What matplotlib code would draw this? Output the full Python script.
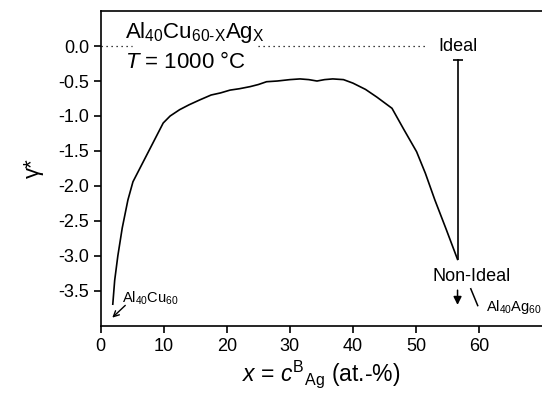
import numpy as np
import matplotlib.pyplot as plt

plt.rcParams['font.family'] = ['Liberation Sans', 'DejaVu Sans']
plt.rcParams['mathtext.fontset'] = 'custom'
plt.rcParams['mathtext.rm'] = 'Liberation Sans'
plt.rcParams['mathtext.it'] = 'Liberation Sans:italic'

# gamma* along the Al40Cu60-xAgx section at 1000 C
x_ag = [1.9, 2.2, 2.7, 3.4, 4.3, 5.1, 7.5, 9.9, 11.0, 12.5, 14.0, 15.7, 17.5,
        19.0, 20.5, 22.0, 23.7, 25.0, 26.3, 28.0, 30.0, 31.6, 33.0, 34.3,
        35.5, 36.8, 38.5, 40.0, 42.0, 43.8, 46.2, 48.0, 50.1, 51.5, 53.0,
        54.8, 56.6]
gamma = [-3.69, -3.35, -3.0, -2.6, -2.2, -1.94, -1.52, -1.1, -1.0, -0.91,
         -0.84, -0.77, -0.70, -0.67, -0.63, -0.61, -0.58, -0.55, -0.51, -0.50,
         -0.48, -0.47, -0.48, -0.50, -0.48, -0.47, -0.48, -0.53, -0.62, -0.73,
         -0.89, -1.18, -1.51, -1.82, -2.2, -2.62, -3.05]

x_end = 56.6
ideal_top = -0.2
yticks = np.arange(-3.5, 0.01, 0.5)

fig = plt.figure(figsize=(5.42, 3.95), dpi=100)
ax = fig.add_axes([0.186, 0.175, 0.814, 0.797])

ax.plot(x_ag, gamma, color='black', lw=1.2)

# distance from ideal behaviour at the Al40Ag60 end
ax.plot([x_end, x_end], [ideal_top, gamma[-1]], color='black', lw=1.2)
ax.plot([x_end], [ideal_top], marker='_', ms=7, mew=1.2, color='black')

# ideal reference line, broken by the labels
ax.plot([0, 5.0], [0, 0], ls=(0, (1, 3)), color='black', lw=0.9)
ax.plot([25, 51.8], [0, 0], ls=(0, (1, 3)), color='black', lw=0.9)
ax.text(x_end, 0, 'Ideal', ha='center', va='center', fontsize=13)

ax.text(3.8, 0.2, r'Al$_{40}$Cu$_{60\text{-}\mathrm{X}}$Ag$_\mathrm{X}$',
        fontsize=16, va='center', ha='left')
ax.text(3.8, -0.23, r'$T$ = 1000 °C', fontsize=16, va='center', ha='left')

ax.text(58.9, -3.29, 'Non-Ideal', ha='center', va='center', fontsize=13)
ax.annotate('', xy=(x_end, -3.74), xytext=(x_end, -3.45),
            arrowprops=dict(arrowstyle='-|>', color='black', lw=1.1,
                            mutation_scale=12))
ax.plot([58.7, 59.8], [-3.47, -3.71], color='black', lw=1.1)
ax.text(61.1, -3.73, r'Al$_{40}$Ag$_{60}$', fontsize=10.5, va='center', ha='left')

ax.text(3.3, -3.61, r'Al$_{40}$Cu$_{60}$', fontsize=10.5, va='center', ha='left')
ax.annotate('', xy=(1.5, -3.91), xytext=(4.2, -3.68),
            arrowprops=dict(arrowstyle='->', color='black', lw=1.0))

ax.set_xlim(0, 70)
ax.set_ylim(-4.0, 0.5)
ax.set_xticks(np.arange(0, 70, 10))
ax.set_yticks(yticks)
ax.set_yticklabels([f'{v:.1f}' for v in yticks])
ax.tick_params(direction='out', length=5, width=1.2, labelsize=13)
ax.spines['right'].set_visible(False)
for s in ('left', 'bottom', 'top'):
    ax.spines[s].set_linewidth(1.2)

ax.set_ylabel('γ*', fontsize=16, labelpad=10)
ax.set_xlabel(r'$x$ = $c^{\mathrm{B}}{}_{\mathrm{Ag}}$ (at.-%)', fontsize=16.5,
              labelpad=3)

fig.savefig('out.png', dpi=100)
